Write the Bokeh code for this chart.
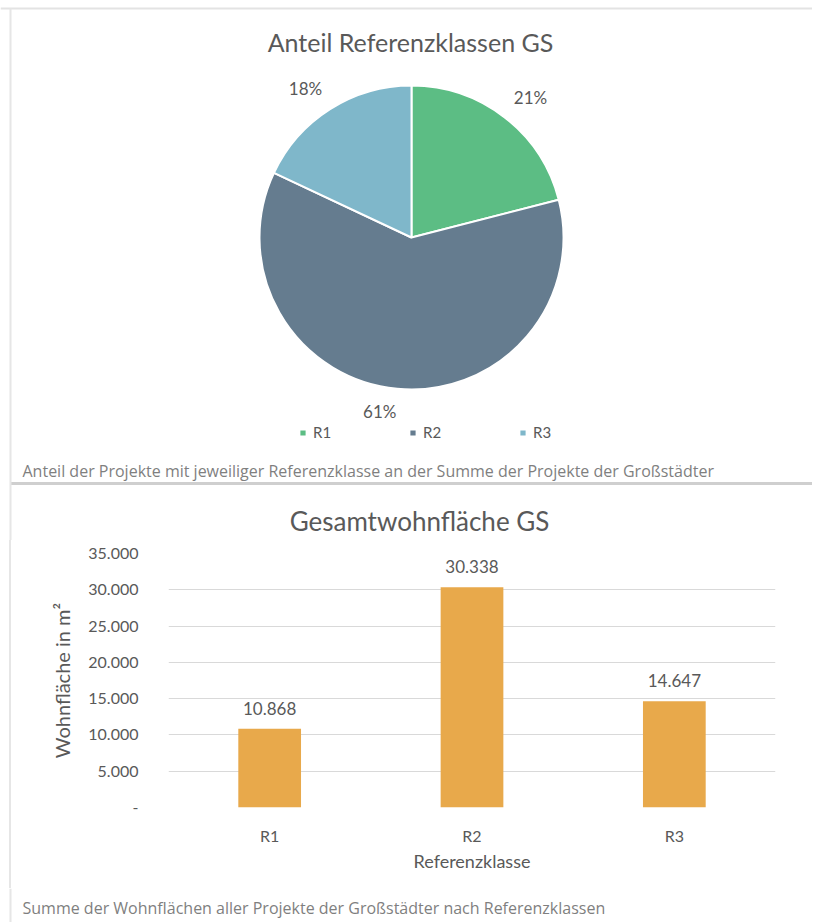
import math
from bokeh.plotting import figure
from bokeh.models import Range1d, FactorRange, Legend, LegendItem, ColumnDataSource, FixedTicker
from bokeh.layouts import column
from bokeh.embed import file_html
from bokeh.resources import INLINE
from bokeh.core.properties import value

# ---------------- data ----------------
pie_title = "Anteil Referenzklassen GS"
classes = ["R1", "R2", "R3"]
shares = [21, 61, 18]
pie_colors = ["#5CBD84", "#657C8F", "#7FB7CA"]
pie_caption = "Anteil der Projekte mit jeweiliger Referenzklasse an der Summe der Projekte der Großstädter"

bar_title = "Gesamtwohnfläche GS"
areas = [10868, 30338, 14647]
bar_color = "#E8A94B"
y_ticks = [0, 5000, 10000, 15000, 20000, 25000, 30000, 35000]
y_tick_labels = ["-", "5.000", "10.000", "15.000", "20.000", "25.000", "30.000", "35.000"]
y_label = "Wohnfläche in m²"
x_label = "Referenzklasse"
bar_caption = "Summe der Wohnflächen aller Projekte der Großstädter nach Referenzklassen"

TXT = "#595959"
CAP = "#7F7F7F"
FONT = value("Lato")
CFONT = value("Open Sans")
W = 812

# ---------------- figure 1: pie ----------------
H1 = 540
p1 = figure(width=W, height=H1, x_range=Range1d(0, W), y_range=Range1d(0, H1),
            x_axis_type=None, y_axis_type=None, output_backend="svg",
            toolbar_location=None, min_border=0, frame_align=False)
p1.outline_line_color = None
p1.grid.visible = False

cx, cy, R = 411, 303, 152
total = sum(shares)
starts, ends, lx, ly, ltxt = [], [], [], [], []
cum = 0
for s in shares:
    a0 = math.pi / 2 - 2 * math.pi * cum / total
    cum += s
    a1 = math.pi / 2 - 2 * math.pi * cum / total
    starts.append(a0)
    ends.append(a1)
    mid = (a0 + a1) / 2
    ux, uy = math.cos(mid), math.sin(mid)
    # outside-end label: box pushed outward from the rim
    lx.append(cx + 168 * ux + 16 * math.copysign(1, ux))
    ly.append(cy + 168 * uy + 7 * math.copysign(1, uy))
    ltxt.append(f"{s}%")

src = ColumnDataSource(dict(start=starts, end=ends, color=pie_colors, label=classes))
wr = p1.wedge(x=cx, y=cy, radius=R, start_angle="start", end_angle="end",
              direction="clock", fill_color="color", line_color="white",
              line_width=2, source=src)
p1.text(x=lx, y=ly, text=ltxt, text_align="center", text_baseline="middle",
        text_font=FONT, text_font_size="17px", text_color=TXT)

legend = Legend(items=[LegendItem(label=c, renderers=[wr], index=i) for i, c in enumerate(classes)],
                orientation="horizontal", location=(298, 99), glyph_width=9, glyph_height=9,
                label_standoff=6, spacing=75, padding=0, margin=0,
                border_line_color=None, background_fill_alpha=0,
                label_text_font="Lato", label_text_font_size="15px",
                label_text_color=TXT, label_height=16)
p1.add_layout(legend)

# titles / caption / frame lines
p1.text(x=[410], y=[H1 - 41], text=[pie_title], text_align="center", text_baseline="middle",
        text_font=FONT, text_font_size="25px", text_color=TXT)
p1.text(x=[22], y=[70], text=[pie_caption], text_align="left", text_baseline="middle",
        text_font=CFONT, text_font_size="16px", text_color=CAP)
p1.line(x=[10, W], y=[57, 57], line_color="#CFCFCF", line_width=3)
p1.line(x=[0, W], y=[H1 - 8, H1 - 8], line_color="#E3E3E3", line_width=2)
p1.line(x=[10, 10], y=[0, H1 - 8], line_color="#E6E6E6", line_width=2)
p1.text(x=[419], y=[20], text=[bar_title], text_align="center", text_baseline="middle",
        text_font=FONT, text_font_size="26px", text_color=TXT)

# ---------------- figure 2: bars ----------------
H2 = 348
p2 = figure(width=W, height=H2, x_range=FactorRange(*classes), y_range=Range1d(0, 35000),
            output_backend="svg", toolbar_location=None, frame_align=False,
            min_border_left=168, min_border_right=W - 775, min_border_top=13, min_border_bottom=81,
            styles={"background": "linear-gradient(to right, #FFFFFF 9px, #E6E6E6 9px, "
                                  "#E6E6E6 11px, #FFFFFF 11px)"})
p2.border_fill_alpha = 0
p2.outline_line_color = None
p2.xgrid.visible = False
p2.ygrid.grid_line_color = "#D9D9D9"
p2.ygrid.grid_line_width = 1

p2.vbar(x=classes, top=areas, width=0.31, fill_color=bar_color, line_color=None)
bar_labels = [f"{v:,}".replace(",", ".") for v in areas]
p2.text(x=classes, y=areas, text=bar_labels, y_offset=-14, text_align="center",
        text_baseline="bottom", text_font=FONT, text_font_size="17px", text_color=TXT)

p2.yaxis.ticker = FixedTicker(ticks=y_ticks)
p2.yaxis.major_label_overrides = {t: l for t, l in zip(y_ticks, y_tick_labels)}
p2.yaxis.axis_label = y_label
for ax in (p2.xaxis, p2.yaxis):
    ax.axis_line_color = None
    ax.major_tick_line_color = None
    ax.minor_tick_line_color = None
    ax.major_tick_out = 0
    ax.major_tick_in = 0
    ax.major_label_text_font = "Lato"
    ax.major_label_text_font_size = "16px"
    ax.major_label_text_color = TXT
    ax.axis_label_text_font = "Lato"
    ax.axis_label_text_font_size = "20px"
    ax.axis_label_text_font_style = "normal"
    ax.axis_label_text_color = TXT
p2.xaxis.axis_label_text_font_size = "18px"
p2.yaxis.major_label_standoff = 30
p2.yaxis.axis_label_standoff = 11
p2.xaxis.axis_label = x_label
p2.xaxis.major_label_standoff = 18
p2.xaxis.axis_label_standoff = 2

# ---------------- figure 3: caption ----------------
H3 = 34
p3 = figure(width=W, height=H3, x_range=Range1d(0, W), y_range=Range1d(0, H3),
            x_axis_type=None, y_axis_type=None, output_backend="svg",
            toolbar_location=None, min_border=0, frame_align=False)
p3.outline_line_color = None
p3.grid.visible = False
p3.line(x=[10, 10], y=[0, H3], line_color="#E6E6E6", line_width=2)
p3.text(x=[22], y=[15], text=[bar_caption], text_align="left", text_baseline="middle",
        text_font=CFONT, text_font_size="16px", text_color=CAP)

layout = column(p1, p2, p3, spacing=0)
open("out.html", "w").write(file_html(layout, INLINE))
